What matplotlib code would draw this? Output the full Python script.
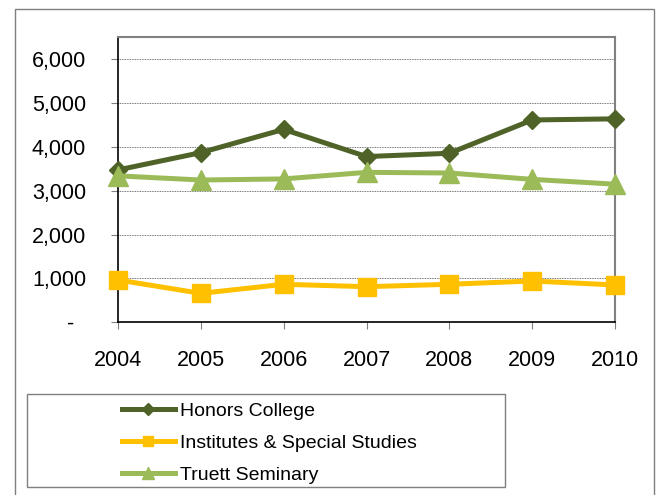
import matplotlib.pyplot as plt
from matplotlib.patches import Rectangle
from matplotlib.ticker import FuncFormatter

plt.rcParams['font.family'] = ['Liberation Sans', 'DejaVu Sans']

# data
years = ['2004', '2005', '2006', '2007', '2008', '2009', '2010']
honors = [3475, 3870, 4400, 3780, 3855, 4615, 4640]
institutes = [965, 660, 867, 812, 867, 942, 851]
truett = [3340, 3245, 3270, 3420, 3405, 3260, 3150]

W, H = 657, 495
fig = plt.figure(figsize=(W / 100, H / 100), dpi=100)

# outer chart frame
fig.patches.append(Rectangle((15 / W, -0.05), (654 - 15) / W, 1.05 - 9 / H,
                             transform=fig.transFigure, fill=False,
                             edgecolor='#7f7f7f', lw=1.0))
# legend frame
fig.patches.append(Rectangle((26.5 / W, 1 - 487 / H), (505 - 26.5) / W, (487 - 394) / H,
                             transform=fig.transFigure, fill=False,
                             edgecolor='#7f7f7f', lw=1.0))

ax = fig.add_axes([118 / W, 1 - 322.3 / H, (615 - 118) / W, (322.3 - 37.3) / H])
x = range(len(years))

ax.plot(x, honors, color='#4F6228', lw=3.6, marker='D', markersize=9.5,
        label='Honors College', zorder=3, clip_on=False)
ax.plot(x, institutes, color='#FFC000', lw=3.6, marker='s', markersize=13,
        label='Institutes & Special Studies', zorder=3, clip_on=False)
ax.plot(x, truett, color='#9BBB59', lw=3.6, marker='^', markersize=14,
        label='Truett Seminary', zorder=3, clip_on=False)

ax.set_xlim(0, len(years) - 1)
ax.set_ylim(0, 6500)
ax.set_xticks(list(x))
ax.set_xticklabels(years)
ax.set_yticks(range(0, 7000, 1000))
ax.yaxis.set_major_formatter(FuncFormatter(lambda v, p: '-  ' if v == 0 else f'{int(v):,}'))

ax.grid(axis='y', color='#444444', lw=0.6, linestyle=(0, (1, 1)))
ax.set_axisbelow(True)

for s in ['top', 'right']:
    ax.spines[s].set_color('#808080')
    ax.spines[s].set_linewidth(1.5)
ax.spines['left'].set_color('black')
ax.spines['bottom'].set_color('black')
ax.spines['left'].set_linewidth(1.2)
ax.spines['bottom'].set_linewidth(1.2)

ax.tick_params(axis='x', direction='out', length=5, width=0.8, color='#808080',
               labelsize=15.5, pad=15)
ax.tick_params(axis='y', direction='out', length=5, width=0.8, color='#808080',
               labelsize=15.5, pad=18)

fig.legend(loc='upper left', bbox_to_anchor=(122 / W, 1 - 402 / H),
           bbox_transform=fig.transFigure, frameon=False, fontsize=14,
           borderpad=0, borderaxespad=0, handlelength=2.7, handletextpad=0.3,
           labelspacing=0.75, markerscale=0.6)

fig.savefig('out.png', dpi=100)
